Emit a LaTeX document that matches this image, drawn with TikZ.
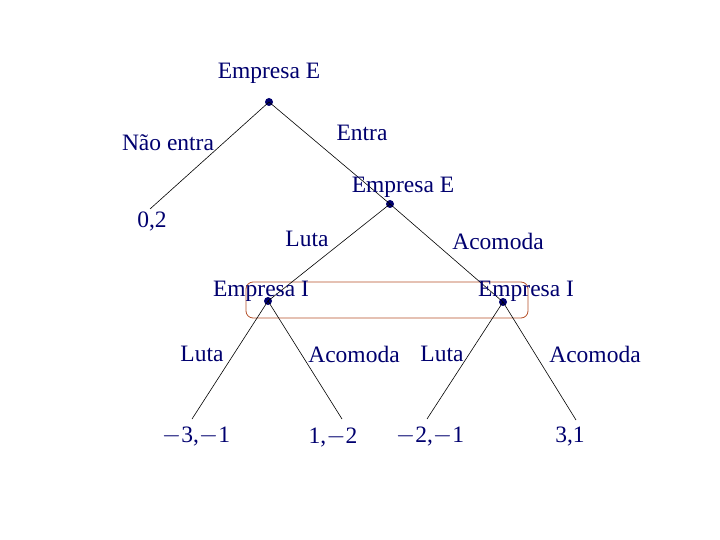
\documentclass[tikz,border=0pt]{standalone}
\usepackage{fontspec}
\setmainfont{Liberation Serif}
\definecolor{navy}{RGB}{0,0,110}
\definecolor{boxred}{RGB}{180,80,40}
\begin{document}
\begin{tikzpicture}[x=1pt,y=-1pt,
  lbl/.style={text=navy,font=\fontsize{23.5}{26}\selectfont,inner sep=0pt,anchor=center},
  dot/.style={circle,fill=navy,inner sep=0pt,minimum size=8pt},
  edge/.style={draw=black,line width=0.6pt}]
\useasboundingbox (0,0) rectangle (720,540);
% decision nodes
\node[dot] (r) at (269,102) {};
\node[dot] (e2) at (390,204) {};
\node[dot] (i1) at (268,301) {};
\node[dot] (i2) at (503,302) {};
% leaves
\coordinate (l0) at (150,209);
\coordinate (l1) at (192,419);
\coordinate (l2) at (342,419);
\coordinate (l3) at (427,419);
\coordinate (l4) at (576,420);
% information set
\node[draw=boxred,line width=0.8pt,rounded corners=7pt,minimum width=282pt,minimum height=36pt,inner sep=0pt] (info) at (387,300) {};
% edges
\draw[edge] (r.center) -- (l0);
\draw[edge] (r.center) -- (e2.center);
\draw[edge] (e2.center) -- (i1.center);
\draw[edge] (e2.center) -- (i2.center);
\draw[edge] (i1.center) -- (l1);
\draw[edge] (i1.center) -- (l2);
\draw[edge] (i2.center) -- (l3);
\draw[edge] (i2.center) -- (l4);
% labels
\node[lbl] (tr) at (269,73) {Empresa E};
\node[lbl] (tne) at (168,143) {Não entra};
\node[lbl] (ten) at (362,133) {Entra};
\node[lbl] (te2) at (403,187) {Empresa E};
\node[lbl] (p0) at (152,221) {0,2};
\node[lbl] (tl) at (307,239) {Luta};
\node[lbl] (ta) at (498,241) {Acomoda};
\node[lbl] (ti1) at (261,291) {Empresa I};
\node[lbl] (ti2) at (526,291) {Empresa I};
\node[lbl] (tl1) at (202,354) {Luta};
\node[lbl] (ta1) at (354,354) {Acomoda};
\node[lbl] (tl2) at (442,354) {Luta};
\node[lbl] (ta2) at (595,354) {Acomoda};
\node[lbl] (p1) at (196,437) {$-$3,$-$1};
\node[lbl] (p2) at (333,438) {1,$-$2};
\node[lbl] (p3) at (430,437) {$-$2,$-$1};
\node[lbl] (p4) at (570,437) {3,1};
\end{tikzpicture}
\end{document}
